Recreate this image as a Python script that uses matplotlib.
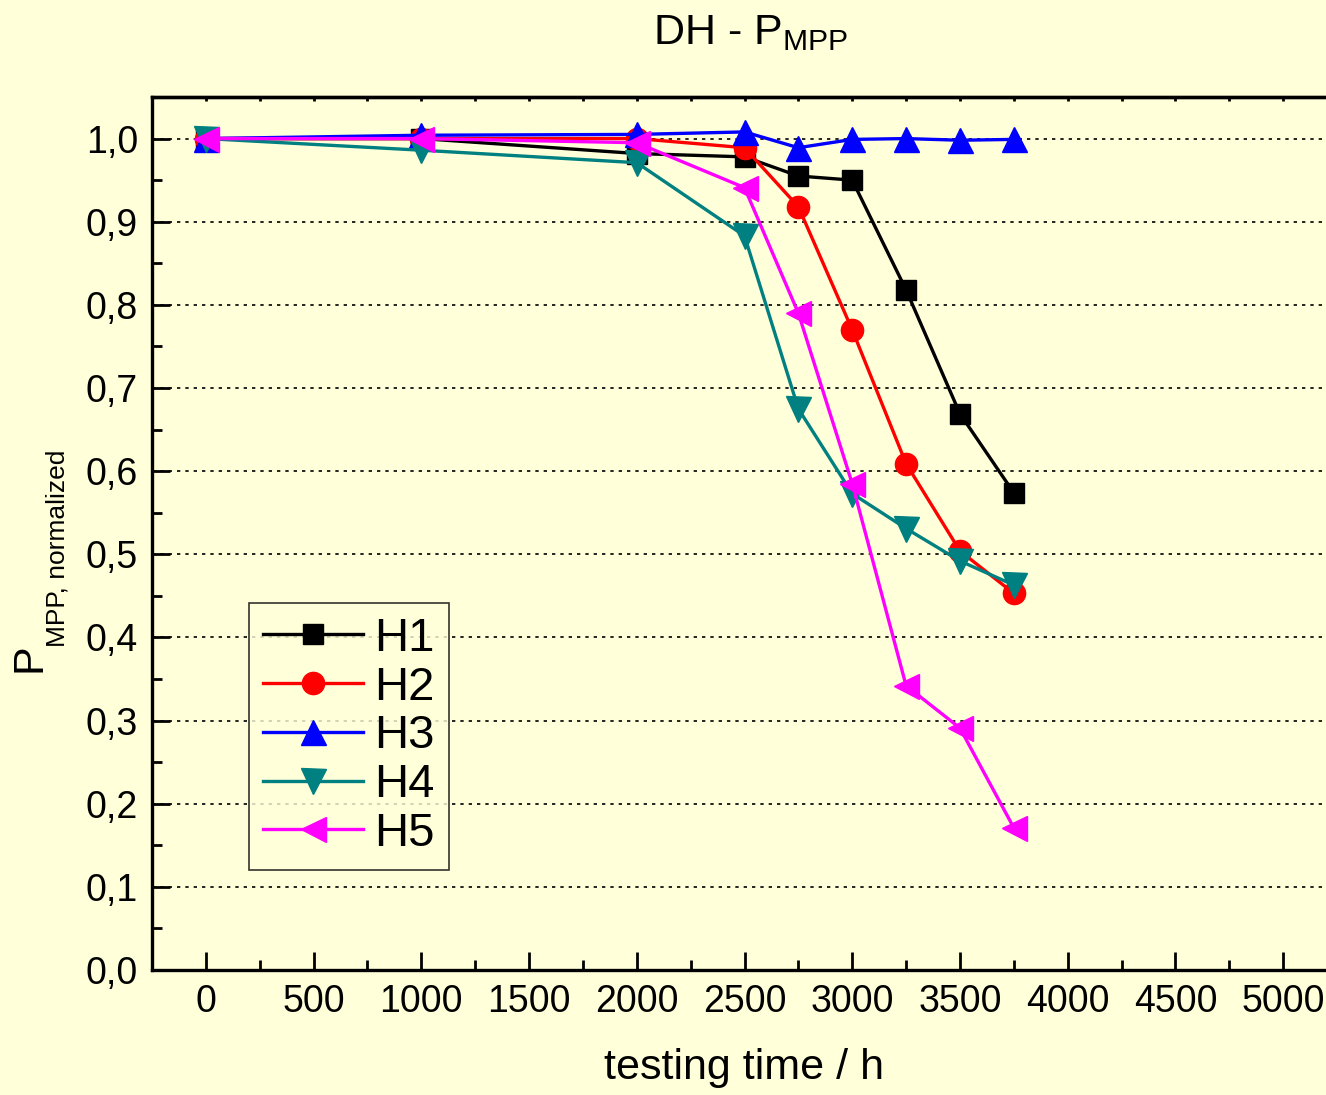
import numpy as np
import matplotlib
matplotlib.use("Agg")
import matplotlib.pyplot as plt
from matplotlib.ticker import MultipleLocator, FuncFormatter, NullFormatter

plt.rcParams['font.family'] = ['Liberation Sans', 'DejaVu Sans']
plt.rcParams['mathtext.fontset'] = 'custom'
plt.rcParams['mathtext.rm'] = 'Liberation Sans'
plt.rcParams['mathtext.it'] = 'Liberation Sans'

# testing time (h)
t = [0, 1000, 2000, 2500, 2750, 3000, 3250, 3500, 3750]

# normalized P_MPP values
h1 = [1.0, 1.0, 0.982, 0.978, 0.955, 0.950, 0.818, 0.669, 0.574]
h2 = [1.0, 1.0, 1.0, 0.989, 0.918, 0.770, 0.609, 0.504, 0.453]
h3 = [1.0, 1.004, 1.005, 1.008, 0.989, 0.999, 1.000, 0.998, 0.999]
h4 = [1.0, 0.986, 0.971, 0.883, 0.675, 0.573, 0.531, 0.492, 0.463]
h5 = [1.0, 1.0, 0.995, 0.941, 0.790, 0.585, 0.342, 0.291, 0.171]

labels = ["H1", "H2", "H3", "H4", "H5"]
series = [h1, h2, h3, h4, h5]
colors = ["#000000", "#FF0000", "#0000FF", "#008080", "#FF00FF"]
markers = ["s", "o", "^", "v", "<"]
msizes = [14, 16, 18, 18, 18]

bg = "#FFFFDA"

fig = plt.figure(figsize=(13.26, 10.95), dpi=100, facecolor=bg)
ax = fig.add_axes([152/1326, 125/1095, 1185/1326, 873/1095], facecolor=bg)

for y, lab, c, m, ms in zip(series, labels, colors, markers, msizes):
    ax.plot(t, y, color=c, marker=m, markersize=ms, lw=2.4, label=lab,
            markeredgecolor=c)

ax.set_xlim(-250, 5250)
ax.set_ylim(0, 1.05)

ax.xaxis.set_major_locator(MultipleLocator(500))
ax.xaxis.set_minor_locator(MultipleLocator(250))
ax.yaxis.set_major_locator(MultipleLocator(0.1))
ax.yaxis.set_minor_locator(MultipleLocator(0.05))
ax.yaxis.set_major_formatter(FuncFormatter(lambda v, p: f"{v:.1f}".replace(".", ",")))

ax.tick_params(which='major', direction='in', length=13, width=2, labelsize=27,
               top=False, right=False, pad=10)
ax.tick_params(which='minor', direction='in', length=7, width=2, top=False, right=False)

# short ticks on the top axis
top = ax.secondary_xaxis('top')
top.xaxis.set_major_locator(MultipleLocator(250))
top.xaxis.set_major_formatter(NullFormatter())
top.tick_params(direction='in', length=3, width=2)

for s in ax.spines.values():
    s.set_linewidth(2.4)
top.spines['top'].set_linewidth(2.4)

# horizontal dotted grid at major y ticks
for yv in np.arange(0.1, 1.01, 0.1):
    ax.axhline(yv, color='black', lw=1.2, ls=(0, (2, 3)), zorder=0.5)

ax.set_title(r"DH - P$_{\mathrm{MPP}}$", fontsize=31, pad=38, x=0.505)
ax.set_xlabel("testing time / h", fontsize=31, labelpad=20)

# y label: big P with smaller subscript
fig.text(30/1326, 1 - 658/1095, "P", rotation=90, fontsize=31,
         ha='center', va='center')
fig.text(58/1326, 1 - 548/1095, "MPP, normalized", rotation=90, fontsize=19,
         ha='center', va='center')

leg = ax.legend(loc='lower left', bbox_to_anchor=(0.082, 0.1145), fontsize=34,
                frameon=True, fancybox=False, handlelength=2.1, handletextpad=0.25,
                borderpad=0.3, labelspacing=0.1, borderaxespad=0)
leg.get_frame().set_edgecolor('black')
leg.get_frame().set_linewidth(1.2)
leg.get_frame().set_facecolor(bg)

fig.savefig("out.png", dpi=100, facecolor=bg)
